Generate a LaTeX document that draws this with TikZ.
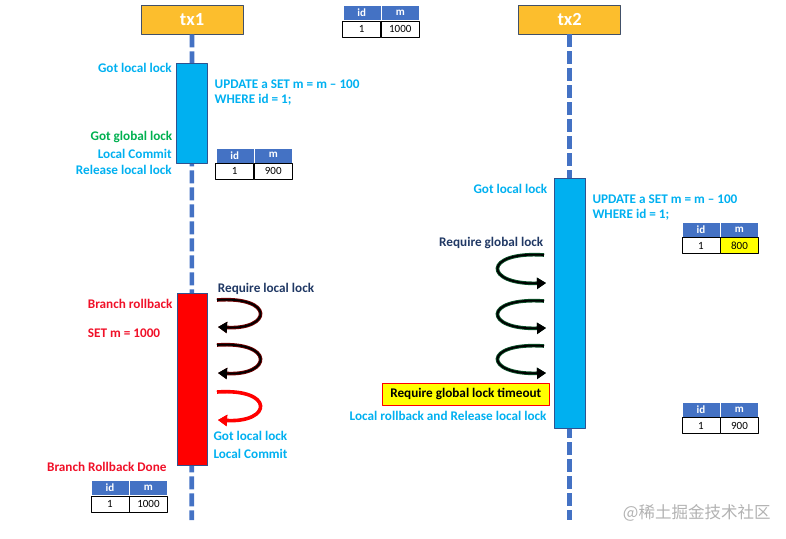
\documentclass[tikz,border=0pt]{standalone}
\usepackage{fontspec}
\setmainfont{Carlito}
\newfontfamily\cjk{Noto Sans CJK SC}
\usetikzlibrary{arrows.meta,positioning}
\definecolor{txorange}{RGB}{252,190,45}
\definecolor{txedge}{RGB}{65,80,105}
\definecolor{lineblue}{RGB}{68,114,196}
\definecolor{actblue}{RGB}{0,176,240}
\definecolor{actedge}{RGB}{47,82,143}
\definecolor{lockgreen}{RGB}{0,176,80}
\definecolor{navy}{RGB}{32,56,100}
\definecolor{rbred}{RGB}{255,0,0}
\definecolor{txtred}{RGB}{240,16,40}
\definecolor{darkred}{RGB}{110,0,0}
\definecolor{darkgreen}{RGB}{10,80,40}
\definecolor{hiyellow}{RGB}{255,255,0}

\begin{document}
\begin{tikzpicture}[x=1pt, y=-1pt, line join=round,
	txbox/.style={draw=txedge, fill=txorange, line width=0.8pt, minimum width=102pt, minimum height=29pt, inner sep=0pt, text=white, font=\bfseries\fontsize{18.5}{20}\selectfont},
	lifeline/.style={lineblue, line width=4.6pt, dash pattern=on 13pt off 4pt},
	actbox/.style={draw=actedge, line width=0.8pt},
	lbl/.style={inner sep=0pt, font=\bfseries\fontsize{13.2}{14.8}\selectfont},
	cell/.style={draw=black, line width=0.8pt, minimum width=38pt, minimum height=16pt, inner sep=0pt, font=\fontsize{11}{12}\selectfont},
	hdr/.style={cell, draw=white, line width=0.5pt, fill=lineblue, minimum height=15pt, text=white, font=\bfseries\fontsize{11}{12}\selectfont},
	tip/.style={-{Triangle[length=9pt,width=11pt]}}]
	\useasboundingbox (0,0) rectangle (786,538);
	% lifelines
	\node[txbox] (tx1) at (192,19.5) {tx1};
	\node[txbox] (tx2) at (569.7,19.5) {tx2};
	\coordinate (end1) at (191.7,520);
	\coordinate (end2) at (569.7,520);
	\draw[lifeline] (tx1.south) -- (end1);
	\draw[lifeline] (tx2.south) -- (end2);
	% activations
	\filldraw[actbox, fill=actblue] (176.5,63.3) rectangle (207.3,163);
	\filldraw[actbox, fill=actblue] (554.5,178.3) rectangle (585.5,428.3);
	\filldraw[actbox, fill=rbred] (177.3,293.3) rectangle (207.7,465.5);
	% tables
	\foreach \tx/\ty/\tv/\tc [count=\k] in {342.5/5/1000/white, 215.5/147.5/900/white, 681.7/221.7/800/hiyellow, 681.7/401.7/900/white, 90.7/480/1000/white}{
		\node[hdr, anchor=north west] (idh\k) at (\tx,\ty) {id};
		\node[hdr, right=0pt of idh\k] (mh\k) {m};
		\node[cell, below=0pt of idh\k] (idv\k) {1};
		\node[cell, fill=\tc, below=0pt of mh\k] (mv\k) {\tv};
	}
	% tx1 labels
	\node[lbl, actblue, anchor=base east] (gotl1) at (172,72.5) {Got local lock};
	\node[lbl, lockgreen, anchor=base east] (gotg1) at (172.5,140) {Got global lock};
	\node[lbl, actblue, anchor=base east] (lcom1) at (172,158.5) {Local Commit};
	\node[lbl, actblue, anchor=base east] (rel1) at (172,174) {Release local lock};
	\node[lbl, actblue, anchor=base west, align=left] (upd1) at (214.5,103.5) {UPDATE a SET m = m – 100\\WHERE id = 1;};
	% tx2 labels
	\node[lbl, actblue, anchor=base east] (gotl2) at (547.5,193.5) {Got local lock};
	\node[lbl, actblue, anchor=base west, align=left] (upd2) at (592.3,218.5) {UPDATE a SET m = m – 100\\WHERE id = 1;};
	\node[lbl, navy, anchor=base east] (reqg) at (543.5,246.7) {Require global lock};
	\node[lbl, draw=rbred, line width=0.8pt, fill=hiyellow, text=black, minimum width=167pt, minimum height=21.7pt] (tmo) at (465.8,394.2) {Require global lock timeout};
	\node[lbl, actblue, anchor=base east] (lrb) at (546.7,420) {Local rollback and Release local lock};
	% rollback labels
	\node[lbl, txtred, anchor=base west] (brb) at (87.7,308.3) {Branch rollback};
	\node[lbl, txtred, anchor=base west] (setm) at (87.7,337.7) {SET m = 1000};
	\node[lbl, navy, anchor=base west] (reql) at (217.7,292.3) {Require local lock};
	\node[lbl, actblue, anchor=base west] (gotl3) at (213.3,440.7) {Got local lock};
	\node[lbl, actblue, anchor=base west] (lcom3) at (213.3,458.3) {Local Commit};
	\node[lbl, txtred, anchor=base east] (brd) at (166.7,471.7) {Branch Rollback Done};
	% retry loops
	\foreach \t/\e/\oc/\ic in {300/327/darkred/black, 345/373/darkred/black, 392/420/rbred/rbred}{
		\draw[\oc, line width=3.6pt, tip] (217,\t) .. controls (275,\t-4) and (272,\e+3) .. (218,\e);
		\draw[\ic, line width=1.8pt, tip] (217,\t) .. controls (275,\t-4) and (272,\e+3) .. (218,\e);
	}
	\foreach \t/\e in {255/283, 301/328, 346/373}{
		\draw[darkgreen, line width=3.6pt, tip] (544,\t) .. controls (482,\t-4) and (484,\e+2) .. (546,\e);
		\draw[black, line width=1.8pt, tip] (544,\t) .. controls (482,\t-4) and (484,\e+2) .. (546,\e);
	}
	\node[inner sep=0pt, anchor=base west, text=black!30, font=\cjk\fontsize{16.5}{18}\selectfont] (mark) at (622.7,518.3) {@稀土掘金技术社区};
\end{tikzpicture}
\end{document}
